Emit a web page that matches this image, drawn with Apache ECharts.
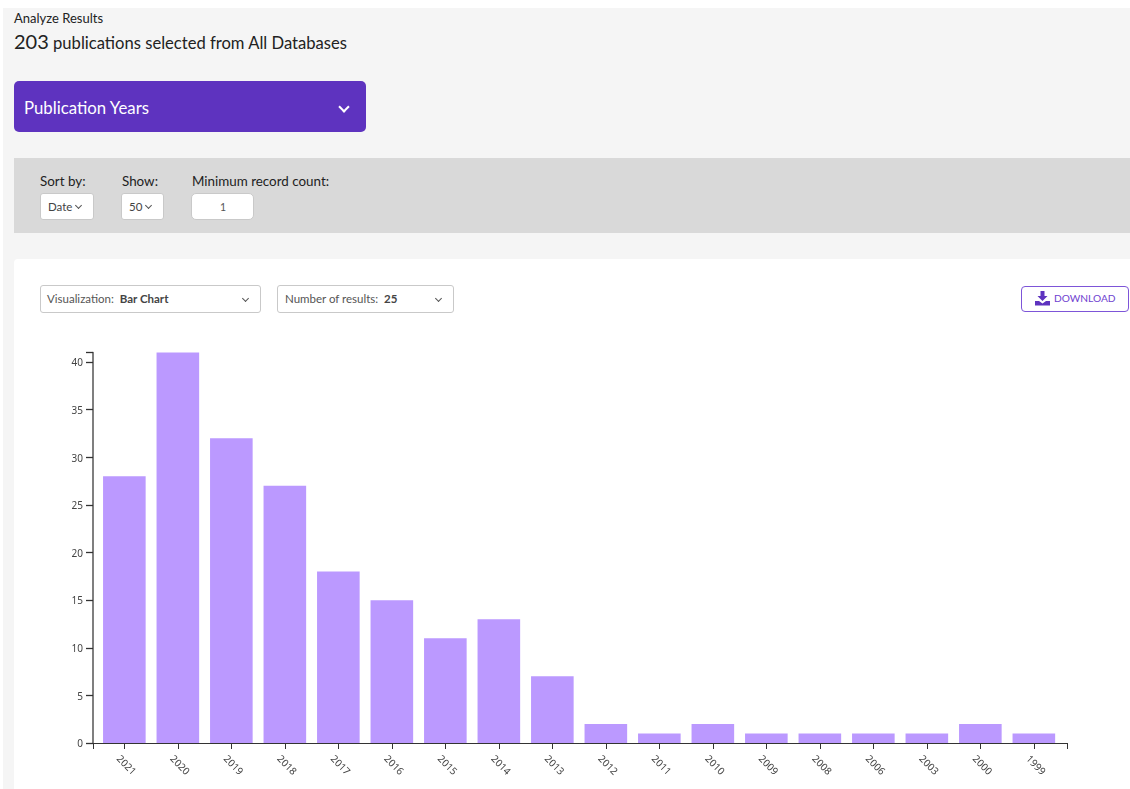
<!DOCTYPE html>
<html><head><meta charset="utf-8">
<script src="https://cdn.jsdelivr.net/npm/echarts@6/dist/echarts.min.js"></script>
<style>
html,body{margin:0;padding:0;background:#fff;width:1130px;height:789px;overflow:hidden;font-family:"Lato","Noto Sans",sans-serif;color:#222}
.a{position:absolute;white-space:nowrap}
.box{position:absolute;box-sizing:border-box;background:#fff;border:1px solid #c9c9c9;border-radius:3px}
.chev{position:absolute;width:5px;height:5px;border-right:1.3px solid #555;border-bottom:1.3px solid #555;transform:rotate(45deg);box-sizing:border-box}
</style></head><body>
<div class="a" style="left:3px;top:8px;width:1127px;height:781px;background:#f5f5f5"></div>
<div class="a" style="left:14px;top:158px;width:1116px;height:75px;background:#d9d9d9"></div>
<div class="a" style="left:14px;top:259px;width:1116px;height:530px;background:#fff;border-radius:4px 0 0 0"></div>
<div class="a" style="left:14px;top:10px;font-size:13px;">Analyze Results</div>
<div class="a" style="left:14px;top:29px;font-size:16.6px;"><span style="font-size:20px">203</span> publications selected from All Databases</div>
<div class="a" style="left:14px;top:81px;width:352px;height:51px;background:#5e33bf;border-radius:5px"></div>
<div class="a" style="left:24px;top:97px;font-size:16.8px;color:#fff">Publication Years</div>
<div class="chev" style="left:340px;top:103px;width:8px;height:8px;border-color:#fff;border-width:2px"></div>
<div class="a" style="left:40px;top:173px;font-size:13.4px">Sort by:</div>
<div class="a" style="left:122px;top:173px;font-size:13.4px">Show:</div>
<div class="a" style="left:192px;top:173px;font-size:13.4px">Minimum record count:</div>
<div class="box" style="left:40px;top:193px;width:54px;height:27px"></div>
<div class="a" style="left:48px;top:200px;font-size:11.5px;color:#444">Date</div>
<div class="chev" style="left:76px;top:203px"></div>
<div class="box" style="left:121px;top:193px;width:43px;height:27px"></div>
<div class="a" style="left:129px;top:200px;font-size:11.5px;color:#444">50</div>
<div class="chev" style="left:146px;top:203px"></div>
<div class="box" style="left:191px;top:193px;width:63px;height:27px;border-radius:5px"></div>
<div class="a" style="left:220px;top:201px;font-size:10.5px;color:#555">1</div>
<div class="box" style="left:40px;top:285px;width:221px;height:28px"></div>
<div class="a" style="left:47px;top:292px;font-size:11.5px;color:#555">Visualization:&nbsp; <b style="color:#444">Bar Chart</b></div>
<div class="chev" style="left:243px;top:296px"></div>
<div class="box" style="left:277px;top:285px;width:177px;height:28px"></div>
<div class="a" style="left:285px;top:292px;font-size:11.5px;color:#555">Number of results:&nbsp; <b style="color:#444">25</b></div>
<div class="chev" style="left:436px;top:296px"></div>
<div class="box" style="left:1021px;top:286px;width:108px;height:26px;border-color:#7d55d8;border-radius:4px"></div>
<svg class="a" style="left:1035px;top:291px" width="15" height="15" viewBox="0 0 15 15"><path d="M5.5 0h4v5h3l-5 5-5-5h3zM0 10h4l3.5 2.5L11 10h4v4.5H0z" fill="#5e33bf"/></svg>
<div class="a" style="left:1054px;top:292px;font-size:10.2px;line-height:13px;color:#6f42d0">DOWNLOAD</div>
<div id="c" class="a" style="left:0;top:0;width:1130px;height:789px"></div>
<script>
const years=["2021","2020","2019","2018","2017","2016","2015","2014","2013","2012","2011","2010","2009","2008","2006","2003","2000","1999"];
const counts=[28,41,32,27,18,15,11,13,7,2,1,2,1,1,1,1,2,1];
const yLabels=[0,5,10,15,20,25,30,35,40];
const yTicks=[0,5,10,15,20,25,30,35,40,41];
const axisColor="#333", textColor="#444";
const chart=echarts.init(document.getElementById('c'),null,{renderer:'canvas'});
chart.setOption({
 animation:false,
 backgroundColor:'transparent',
 grid:[
  {left:97.6,width:963,top:352.5,height:390.5},
  {left:93,width:974,top:352.5,height:390.5}
 ],
 xAxis:[
  {type:'category',gridIndex:0,data:years,
   axisLine:{show:false},
   axisTick:{show:true,alignWithLabel:true,length:6,lineStyle:{color:axisColor,width:1}},
   axisLabel:{interval:0,rotate:-45,margin:8,align:'left',verticalAlign:'top',lineHeight:18,fontSize:10,fontFamily:'"Noto Sans",sans-serif',color:textColor}},
  {type:'value',gridIndex:1,min:0,max:1,interval:1,
   axisLine:{show:true,lineStyle:{color:axisColor,width:1}},
   axisTick:{show:true,length:6,lineStyle:{color:axisColor,width:1}},
   axisLabel:{show:false},splitLine:{show:false}}
 ],
 yAxis:[
  {type:'value',gridIndex:0,min:0,max:41,show:false,splitLine:{show:false}},
  {type:'value',gridIndex:1,min:0,max:41,
   axisLine:{show:true,lineStyle:{color:'#555',width:1.5}},
   axisTick:{show:true,length:7,customValues:yTicks,lineStyle:{color:axisColor,width:1.3}},
   axisLabel:{customValues:yLabels,margin:10,fontSize:10,fontFamily:'"Noto Sans",sans-serif',color:textColor,
     formatter:'{n|{value}}',rich:{n:{fontSize:10,fontFamily:'"Noto Sans",sans-serif',color:textColor,padding:[3,0,0,0]}}},
   splitLine:{show:false}}
 ],
 series:[{type:'bar',xAxisIndex:0,yAxisIndex:0,data:counts,barWidth:42.6,
   itemStyle:{color:'#bb99ff'}}]
});
</script>
</body></html>
